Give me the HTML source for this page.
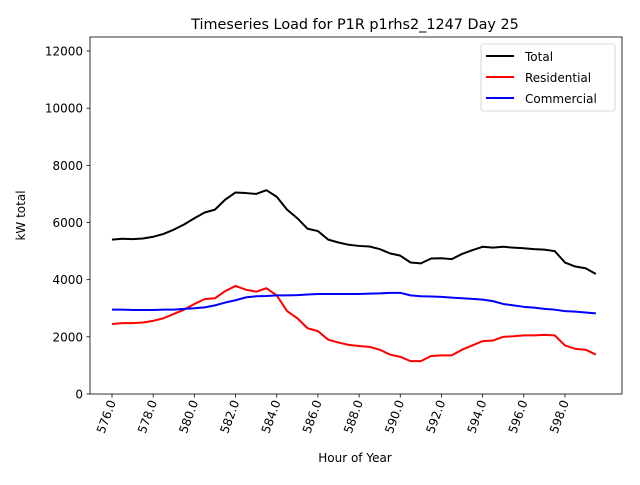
<!DOCTYPE html>
<html><head><meta charset="utf-8"><style>
body{margin:0;background:#fff;}
svg text{font-family:"DejaVu Sans","Liberation Sans",sans-serif;fill:#000;}
</style></head><body>
<svg id="chart" width="640" height="480" xmlns="http://www.w3.org/2000/svg">
<rect x="0" y="0" width="640" height="480" fill="#fff"/>
<text x="355" y="29" font-size="14.4" text-anchor="middle">Timeseries Load for P1R p1rhs2_1247  Day 25</text>
<g id="ticks"></g>
<g id="series"></g>
<rect x="90" y="37" width="532" height="357" fill="none" stroke="#000" stroke-width="0.8"/>
<text x="355" y="462" font-size="12" text-anchor="middle">Hour of Year</text>
<text x="0" y="0" font-size="12" text-anchor="middle" transform="translate(25,215.5) rotate(-90)">kW total</text>
<g>
<rect x="481" y="44" width="134" height="67" rx="2" fill="#fff" stroke="#ccc" stroke-width="0.8"/>
<line x1="486" y1="56" x2="514" y2="56" stroke="#000" stroke-width="2"/>
<text x="525" y="61" font-size="12">Total</text>
<line x1="486" y1="77" x2="514" y2="77" stroke="red" stroke-width="2"/>
<text x="525" y="82" font-size="12">Residential</text>
<line x1="486" y1="98" x2="514" y2="98" stroke="blue" stroke-width="2"/>
<text x="525" y="103" font-size="12">Commercial</text>
</g>
</svg>
<script>
const hourStart = 576;
const hourStep = 0.5;
const residential = [2450,2480,2480,2500,2560,2650,2800,2950,3150,3320,3350,3600,3780,3650,3580,3700,3450,2900,2650,2300,2200,1900,1800,1720,1680,1650,1550,1380,1300,1150,1150,1330,1350,1350,1550,1700,1850,1870,2000,2020,2050,2050,2070,2050,1700,1580,1550,1380];
const commercial = [2950,2950,2940,2940,2940,2950,2950,2980,3000,3030,3100,3200,3280,3380,3420,3430,3450,3450,3460,3480,3500,3500,3500,3500,3500,3510,3520,3540,3540,3450,3420,3410,3400,3370,3350,3330,3300,3250,3150,3100,3050,3020,2980,2950,2900,2880,2850,2820];
const total = [5400,5430,5420,5440,5500,5600,5750,5930,6150,6350,6450,6800,7050,7030,7000,7130,6900,6450,6150,5780,5700,5400,5300,5220,5180,5160,5070,4920,4840,4600,4570,4740,4750,4720,4900,5030,5150,5120,5150,5120,5100,5070,5050,5000,4600,4460,4400,4200];
const xTicks = [576,578,580,582,584,586,588,590,592,594,596,598];
const yTicks = [0,2000,4000,6000,8000,10000,12000];

const NS = "http://www.w3.org/2000/svg";
function xs(h){ return 112 + (h - 576) * 20.59; }
function ys(v){ return 394 - v * (343 / 12000); }
const tg = document.getElementById('ticks');
xTicks.forEach(t => {
  const l = document.createElementNS(NS,'line');
  l.setAttribute('x1', xs(t)); l.setAttribute('x2', xs(t));
  l.setAttribute('y1', 394); l.setAttribute('y2', 397.5);
  l.setAttribute('stroke','#000'); l.setAttribute('stroke-width','0.8');
  
  
  tg.appendChild(l);
  const tx = document.createElementNS(NS,'text');
  tx.setAttribute('font-size','12'); tx.setAttribute('text-anchor','end');
  tx.setAttribute('transform', 'translate(' + (xs(t)+4) + ',402) rotate(-70)');
  tx.textContent = t.toFixed(1);
  
  
  tg.appendChild(tx);
});
yTicks.forEach(t => {
  const l = document.createElementNS(NS,'line');
  l.setAttribute('x1', 86.5); l.setAttribute('x2', 90);
  l.setAttribute('y1', ys(t)); l.setAttribute('y2', ys(t));
  l.setAttribute('stroke','#000'); l.setAttribute('stroke-width','0.8');
  
  
  tg.appendChild(l);
  const tx = document.createElementNS(NS,'text');
  tx.setAttribute('font-size','12'); tx.setAttribute('text-anchor','end');
  tx.setAttribute('x', 83); tx.setAttribute('y', ys(t) + 4.5);
  tx.textContent = t;
  
  
  tg.appendChild(tx);
});
const sg = document.getElementById('series');
function drawLine(arr, color, name){
  const p = document.createElementNS(NS,'polyline');
  p.setAttribute('points', arr.map((v,i) => xs(hourStart + i*hourStep) + ',' + ys(v)).join(' '));
  p.setAttribute('fill','none'); p.setAttribute('stroke', color); p.setAttribute('stroke-width','2');
  p.setAttribute('stroke-linejoin','round');
  
  
  sg.appendChild(p);
}
drawLine(total, '#000', 'total-line');
drawLine(residential, 'red', 'residential-line');
drawLine(commercial, 'blue', 'commercial-line');
</script>
</body></html>
